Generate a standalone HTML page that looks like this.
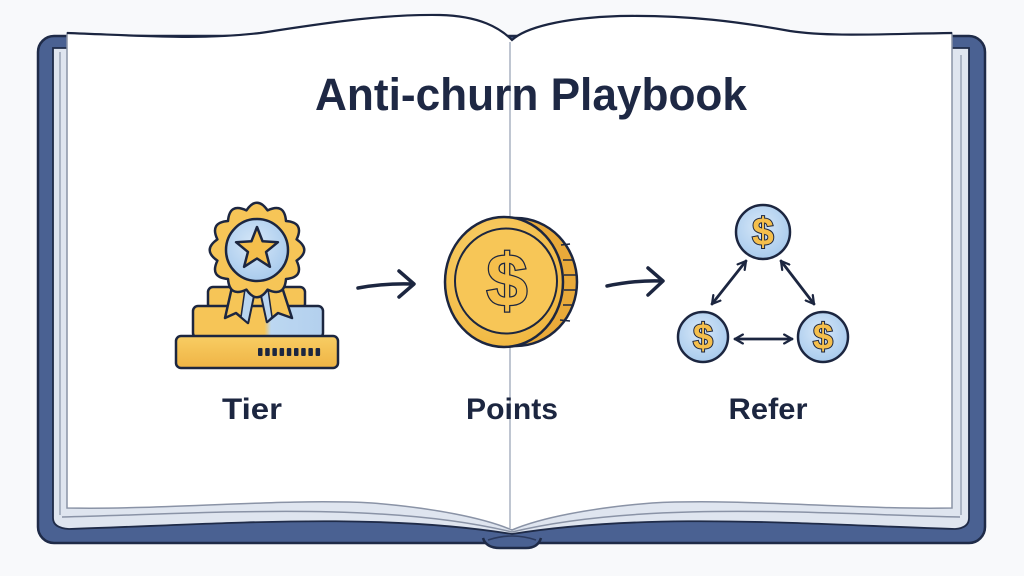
<!DOCTYPE html>
<html><head><meta charset="utf-8"><style>
html,body{margin:0;padding:0;background:#f8f9fb;}
svg{display:block;}
</style></head><body>
<svg width="1024" height="576" viewBox="0 0 1024 576" xmlns="http://www.w3.org/2000/svg">
<defs>
<marker id="ah" viewBox="0 0 10 10" refX="8" refY="5" markerWidth="4" markerHeight="4" orient="auto-start-reverse" markerUnits="strokeWidth">
<path d="M1,1 L8,5 L1,9" fill="none" stroke="#1c2640" stroke-width="2" stroke-linecap="round" stroke-linejoin="round"/>
</marker>
<linearGradient id="mid" x1="0" x2="1" y1="0" y2="0">
<stop offset="0" stop-color="#f6c557"/><stop offset="0.55" stop-color="#f6c557"/><stop offset="0.6" stop-color="#bcd7f1"/><stop offset="1" stop-color="#b3d0ee"/>
</linearGradient>
<linearGradient id="bot" x1="0" x2="0" y1="0" y2="1">
<stop offset="0" stop-color="#f8cd63"/><stop offset="1" stop-color="#efb445"/>
</linearGradient>
<radialGradient id="blu" cx="0.45" cy="0.4" r="0.6">
<stop offset="0" stop-color="#d6e7f8"/><stop offset="1" stop-color="#a9cbed"/>
</radialGradient>
<radialGradient id="gold" cx="0.4" cy="0.35" r="0.7">
<stop offset="0" stop-color="#fad36f"/><stop offset="1" stop-color="#f0b63f"/>
</radialGradient>
</defs>

<!-- cover -->
<rect x="38" y="36" width="947" height="507" rx="16" fill="#4a6192" stroke="#1f2b48" stroke-width="2.5"/>
<path d="M483,538 Q486,548 500,548 L526,548 Q538,548 541,538" fill="#4a6192" stroke="#1f2b48" stroke-width="2.5"/>
<path d="M488,540 Q512,532 536,540" fill="none" stroke="#2b3a5e" stroke-width="1.5"/>

<!-- page stack -->
<path d="M53,48 L969,48 L969,518 Q969,528 955,529 C800,524 650,512 512,534 C374,512 224,524 69,529 Q53,528 53,518 Z" fill="#dfe5ef" stroke="#1f2b48" stroke-width="1.8"/>
<line x1="60" y1="52" x2="60" y2="515" stroke="#9aa3b5" stroke-width="1.5"/>
<line x1="961" y1="55" x2="961" y2="515" stroke="#9aa3b5" stroke-width="1.5"/>
<path d="M62,517 C200,514 380,500 512,532 C644,500 824,514 960,517" fill="none" stroke="#8a93a6" stroke-width="1.5"/>

<!-- pages -->
<path d="M67,33 C150,36 200,40 260,33 C320,24 380,14 440,15 C480,16 500,28 512,40 C525,28 560,18 620,16 C690,15 740,22 790,31 C830,37 880,34 952,33 L952,508 C860,510 740,498 652,503 C590,508 540,518 512,530 C484,518 434,508 372,503 C284,498 164,510 67,508 Z" fill="#ffffff" stroke="#8a93a6" stroke-width="1.5"/>
<path d="M67,33 C150,36 200,40 260,33 C320,24 380,14 440,15 C480,16 500,28 512,40 C525,28 560,18 620,16 C690,15 740,22 790,31 C830,37 880,34 952,33" fill="none" stroke="#1b2540" stroke-width="2.2"/>
<line x1="510" y1="42" x2="510" y2="528" stroke="#b8bfcc" stroke-width="1.8"/>

<!-- title -->
<text x="531" y="110" text-anchor="middle" font-family="Liberation Sans, sans-serif" font-weight="bold" font-size="45" fill="#1e2844" textLength="432" lengthAdjust="spacingAndGlyphs">Anti-churn Playbook</text>

<!-- Tier icon -->
<g stroke="#1c2640" stroke-width="2.5" stroke-linejoin="round">
<rect x="208" y="287" width="97" height="22" rx="5" fill="#f6c557"/>
<rect x="193" y="306" width="130" height="32" rx="5" fill="url(#mid)"/>
<rect x="176" y="336" width="162" height="32" rx="5" fill="url(#bot)"/>
<polygon points="232,287 255,290 248,323 236,313 225,318" fill="#f6c557"/>
<polygon points="245,289 255,290 248,323 241,317" fill="#b9d5f0" stroke-width="1.5"/>
<polygon points="260,290 282,287 292,318 278,313 267,322" fill="#f6c557"/>
<polygon points="260,290 268,289 272,317 267,322" fill="#b9d5f0" stroke-width="1.5"/>
<path transform="translate(257,250)" d="M-10.61,-39.60 Q0,-55 10.61,-39.60 Q27.5,-47.63 28.99,-28.99 Q47.63,-27.5 39.60,-10.61 Q55,0 39.60,10.61 Q47.63,27.5 28.99,28.99 Q27.5,47.63 10.61,39.60 Q0,55 -10.61,39.60 Q-27.5,47.63 -28.99,28.99 Q-47.63,27.5 -39.60,10.61 Q-55,0 -39.60,-10.61 Q-47.63,-27.5 -28.99,-28.99 Q-27.5,-47.63 -10.61,-39.60 Z" fill="#f6c557"/>
<circle cx="257" cy="250" r="31" fill="url(#blu)"/>
<path transform="translate(257,249)" d="M0,-22 L5.58,-7.69 L20.92,-6.80 L9.04,2.94 L12.93,17.80 L0,9.5 L-12.93,17.80 L-9.04,2.94 L-20.92,-6.80 L-5.58,-7.69 Z" fill="#f5bf4c"/>
</g>
<g fill="#1c2640">
<rect x="258" y="348" width="4.5" height="8" rx="1"/>
<rect x="265.2" y="348" width="4.5" height="8" rx="1"/>
<rect x="272.4" y="348" width="4.5" height="8" rx="1"/>
<rect x="279.6" y="348" width="4.5" height="8" rx="1"/>
<rect x="286.8" y="348" width="4.5" height="8" rx="1"/>
<rect x="294" y="348" width="4.5" height="8" rx="1"/>
<rect x="301.2" y="348" width="4.5" height="8" rx="1"/>
<rect x="308.4" y="348" width="4.5" height="8" rx="1"/>
<rect x="315.6" y="348" width="4.5" height="8" rx="1"/>
</g>

<!-- arrows -->
<g fill="none" stroke="#1c2640" stroke-width="3.5" stroke-linecap="round" stroke-linejoin="round">
<path d="M358,288 Q385,283 413,284"/>
<path d="M399,271 L414,284 L399,297"/>
<path d="M607,286 Q635,280 662,281"/>
<path d="M648,268 L663,281 L648,295"/>
</g>

<!-- coin -->
<g stroke="#1c2640" stroke-width="2.5">
<ellipse cx="516" cy="282" rx="61" ry="64" fill="#e9aa3a"/>
<ellipse cx="504" cy="282" rx="59" ry="65" fill="url(#gold)"/>
<ellipse cx="506" cy="281" rx="51" ry="52.5" fill="#f7c657" stroke-width="2"/>
</g>
<g stroke="#1c2640" stroke-width="1.5">
<line x1="561" y1="245" x2="570" y2="244"/>
<line x1="563" y1="260" x2="574" y2="260"/>
<line x1="564" y1="275" x2="576" y2="275"/>
<line x1="564" y1="290" x2="576" y2="290"/>
<line x1="563" y1="305" x2="574" y2="305"/>
<line x1="560" y1="320" x2="570" y2="321"/>
</g>
<text x="507" y="306" text-anchor="middle" font-family="Liberation Sans, sans-serif" font-weight="bold" font-size="74" fill="#f5bf4c" stroke="#1c2640" stroke-width="2.5" paint-order="stroke">$</text>

<!-- refer -->
<g stroke="#1c2640" stroke-width="2.5">
<circle cx="763" cy="232" r="27" fill="url(#blu)"/>
<circle cx="703" cy="337" r="25" fill="url(#blu)"/>
<circle cx="823" cy="337" r="25" fill="url(#blu)"/>
</g>
<g font-family="Liberation Sans, sans-serif" font-weight="bold" fill="#f5bf4c" stroke="#1c2640" stroke-width="2" paint-order="stroke" text-anchor="middle">
<text x="763" y="245" font-size="39">$</text>
<text x="703" y="349" font-size="36">$</text>
<text x="823" y="349" font-size="36">$</text>
</g>
<g stroke="#1c2640" stroke-width="2.8" stroke-linecap="round" fill="none">
<line x1="712" y1="304" x2="746" y2="261" marker-start="url(#ah)" marker-end="url(#ah)"/>
<line x1="781" y1="261" x2="814" y2="304" marker-start="url(#ah)" marker-end="url(#ah)"/>
<line x1="735" y1="339" x2="792" y2="339" marker-start="url(#ah)" marker-end="url(#ah)"/>
</g>

<!-- labels -->
<g font-family="Liberation Sans, sans-serif" font-weight="bold" font-size="30" fill="#1c2640" text-anchor="middle">
<text x="252" y="419" textLength="60" lengthAdjust="spacingAndGlyphs">Tier</text>
<text x="512" y="419" textLength="92" lengthAdjust="spacingAndGlyphs">Points</text>
<text x="768" y="419" textLength="79" lengthAdjust="spacingAndGlyphs">Refer</text>
</g>
</svg>
</body></html>
